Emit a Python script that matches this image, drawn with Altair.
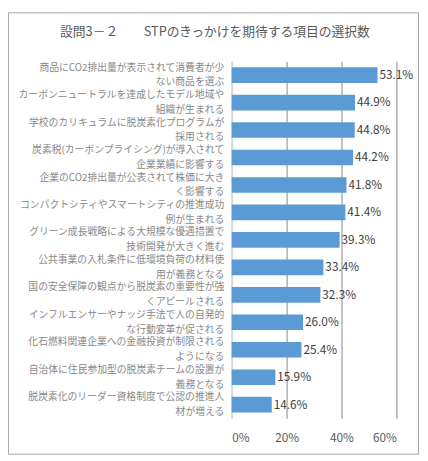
import altair as alt
import pandas as pd

FONT = "Noto Sans CJK JP"

TITLE = "設問3－２　　STPのきっかけを期待する項目の選択数"

LINE1 = [
    "商品にCO2排出量が表示されて消費者が少",
    "カーボンニュートラルを達成したモデル地域や",
    "学校のカリキュラムに脱炭素化プログラムが",
    "炭素税(カーボンプライシング)が導入されて",
    "企業のCO2排出量が公表されて株価に大き",
    "コンパクトシティやスマートシティの推進成功",
    "グリーン成長戦略による大規模な優遇措置で",
    "公共事業の入札条件に低環境負荷の材料使",
    "国の安全保障の観点から脱炭素の重要性が強",
    "インフルエンサーやナッジ手法で人の自発的",
    "化石燃料関連企業への金融投資が制限される",
    "自治体に住民参加型の脱炭素チームの設置が",
    "脱炭素化のリーダー資格制度で公認の推進人",
]
LINE2 = [
    "ない商品を選ぶ",
    "組織が生まれる",
    "採用される",
    "企業業績に影響する",
    "く影響する",
    "例が生まれる",
    "技術開発が大きく進む",
    "用が義務となる",
    "くアピールされる",
    "な行動変革が促される",
    "ようになる",
    "義務となる",
    "材が増える",
]
VALUES = [53.1, 44.9, 44.8, 44.2, 41.8, 41.4, 39.3, 33.4, 32.3, 26.0, 25.4, 15.9, 14.6]
TICKS = [0, 20, 40, 60]


def em_width(s):
    w = 0.0
    for ch in s:
        if ord(ch) < 128:
            w += 0.3 if ch in "()" else 0.6
        else:
            w += 1.0
    return w


def two_line(first, second):
    # pad the short line with wide spaces so it sits centred under the first
    half = round(em_width(first) - em_width(second)) / 2
    full = int(half)
    pad = "\u3000" * full + ("\u2002" if half - full >= 0.5 else "")
    return first + "|" + second + pad


df = pd.DataFrame({
    "label": [two_line(a, b) for a, b in zip(LINE1, LINE2)],
    "value": VALUES,
})
df["text"] = df["value"].map(lambda v: f"{v:.1f}%")

base = alt.Chart(df).encode(
    y=alt.Y(
        "label:N",
        sort=None,
        scale=alt.Scale(paddingInner=0.43, paddingOuter=0.215),
        axis=alt.Axis(
            title=None,
            labelExpr="split(datum.label, '|')",
            domain=False,
            ticks=False,
            labelPadding=8,
            labelOffset=-7.5,
            labelFont=FONT,
            labelFontSize=10,
            labelColor="#898989",
            labelLineHeight=15,
            labelLimit=400,
        ),
    ),
    x=alt.X(
        "value:Q",
        scale=alt.Scale(domain=[0, 60]),
        axis=alt.Axis(
            title=None,
            values=TICKS,
            labelExpr="datum.value + '%'",
            domain=False,
            ticks=False,
            grid=True,
            gridColor={"condition": {"test": "datum.value === 0", "value": "#d9d9d9"}, "value": "#868686"},
            gridWidth={"condition": {"test": "datum.value === 0", "value": 2}, "value": 1},
            labelPadding=15,
            labelFont=FONT,
            labelFontSize=12,
            labelColor="#595959",
        ),
    ),
)

bars = base.mark_bar(color="#5B9BD5")
labels = base.mark_text(align="left", dx=2, font=FONT, fontSize=12, color="#404040").encode(
    text="text:N"
)

deco = alt.Chart(pd.DataFrame({"k": [0]}))
frame = deco.mark_rect(fill="transparent", stroke="#a6a6a6", strokeWidth=1).encode(
    x=alt.value(-227.5), x2=alt.value(190.5), y=alt.value(-49.5), y2=alt.value(400.5)
)
title = deco.mark_text(
    font=FONT, fontSize=13, color="#595959", align="center", baseline="middle"
).encode(text=alt.value(TITLE), x=alt.value(-17), y=alt.value(-30))

chart = (
    alt.layer(frame, title, bars, labels)
    .properties(
        width=168,
        height=364,
        autosize=alt.AutoSizeParams(type="none"),
        padding={"left": 228, "top": 50, "right": 24, "bottom": 39},
        background="white",
    )
    .configure_view(strokeWidth=0)
)

chart.save("out.html", embed_options={"renderer": "svg", "actions": False})
